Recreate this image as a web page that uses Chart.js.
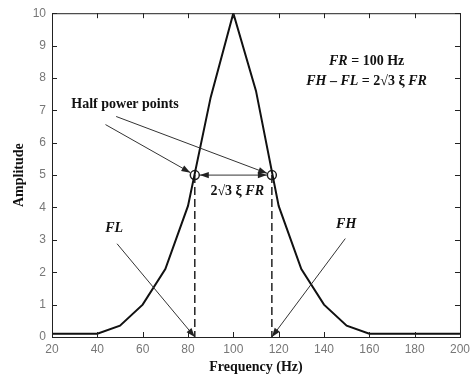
<!DOCTYPE html>
<html>
<head>
<meta charset="utf-8">
<script src="https://cdn.jsdelivr.net/npm/chart.js@4.4.0/dist/chart.umd.min.js"></script>
<style>
    html, body { margin: 0; padding: 0; background: #fff; }
    #wrap { width: 475px; height: 380px; }
</style>
</head>
<body>
<div id="wrap"><canvas id="responseChart"></canvas></div>
<script>
// Frequency response data
const freq = [20, 30, 40, 50, 60, 70, 80, 90, 100, 110, 120, 130, 140, 150, 160, 170, 180, 190, 200];
const amplitude = [0.1, 0.1, 0.1, 0.35, 1.0, 2.1, 4.05, 7.4, 10, 7.6, 4.05, 2.1, 1.0, 0.35, 0.1, 0.1, 0.1, 0.1, 0.1];

// Half power points (FL, FH)
const halfPowerFreq = [83, 117];
const halfPowerAmp = [5, 5];

// Axis ranges / tick steps
const xRange = [20, 200];
const xStep = 20;
const yRange = [0, 10];
const yStep = 1;

// Annotations, in data units
const arrows = [
    { from: [43.6, 6.56], to: [83, 5], endGap: 5 },
    { from: [48.3, 6.81], to: [117, 5], endGap: 5 },
    { from: [48.7, 2.88], to: [83, 0], endGap: 0 },
    { from: [149.4, 3.04], to: [117, 0], endGap: 0 }
];
const labels = [
    { at: [52.2, 7.18], runs: [{ t: 'Half power points' }] },
    { at: [47.4, 3.34], runs: [{ t: 'FL', i: true }] },
    { at: [149.8, 3.47], runs: [{ t: 'FH', i: true }] },
    { at: [101.7, 4.5], runs: [{ t: '2\u221A3 \u03BE ' }, { t: 'FR', i: true }] },
    { at: [158.8, 8.5], runs: [{ t: 'FR', i: true }, { t: ' = 100 Hz' }] },
    { at: [158.8, 7.88], runs: [{ t: 'FH', i: true }, { t: ' \u2013 ' }, { t: 'FL', i: true }, { t: ' = 2\u221A3 \u03BE ' }, { t: 'FR', i: true }] }
];

const serif = '"Liberation Serif", "DejaVu Serif", serif';

function drawArrowHead(ctx, x1, y1, x2, y2) {
    const a = Math.atan2(y2 - y1, x2 - x1);
    const len = 9, half = 3.2;
    ctx.beginPath();
    ctx.moveTo(x2, y2);
    ctx.lineTo(x2 - len * Math.cos(a) + half * Math.sin(a), y2 - len * Math.sin(a) - half * Math.cos(a));
    ctx.lineTo(x2 - len * Math.cos(a) - half * Math.sin(a), y2 - len * Math.sin(a) + half * Math.cos(a));
    ctx.closePath();
    ctx.fill();
}

function drawRuns(ctx, runs, cx, cy, size) {
    const fontFor = r => (r.i ? 'italic ' : '') + 'bold ' + size + 'px ' + serif;
    let total = 0;
    runs.forEach(r => { ctx.font = fontFor(r); total += ctx.measureText(r.t).width; });
    let x = cx - total / 2;
    ctx.textBaseline = 'middle';
    ctx.textAlign = 'left';
    runs.forEach(r => {
        ctx.font = fontFor(r);
        ctx.fillText(r.t, x, cy);
        x += ctx.measureText(r.t).width;
    });
}

// Box frame with inward ticks plus the arrows and labels
const annotatePlugin = {
    id: 'annotate',
    afterDatasetsDraw(chart) {
        const { ctx, chartArea: a, scales: { x, y } } = chart;
        ctx.save();
        ctx.strokeStyle = '#222';
        ctx.lineWidth = 1;
        ctx.strokeRect(a.left + 0.5, a.top + 0.5, a.right - a.left, a.bottom - a.top);
        const tl = 5;
        ctx.beginPath();
        x.ticks.forEach(t => {
            const px = Math.round(x.getPixelForValue(t.value)) + 0.5;
            ctx.moveTo(px, a.bottom); ctx.lineTo(px, a.bottom - tl);
            ctx.moveTo(px, a.top); ctx.lineTo(px, a.top + tl);
        });
        y.ticks.forEach(t => {
            const py = Math.round(y.getPixelForValue(t.value)) + 0.5;
            ctx.moveTo(a.left, py); ctx.lineTo(a.left + tl, py);
            ctx.moveTo(a.right, py); ctx.lineTo(a.right - tl, py);
        });
        ctx.stroke();

        // double arrow between half power points
        const p1x = x.getPixelForValue(halfPowerFreq[0]) + 5;
        const p2x = x.getPixelForValue(halfPowerFreq[1]) - 5;
        const py = y.getPixelForValue(halfPowerAmp[0]);
        ctx.strokeStyle = '#333';
        ctx.fillStyle = '#222';
        ctx.beginPath();
        ctx.moveTo(p1x, py); ctx.lineTo(p2x, py);
        ctx.stroke();
        drawArrowHead(ctx, p2x, py, p1x, py);
        drawArrowHead(ctx, p1x, py, p2x, py);

        arrows.forEach(ar => {
            const x1 = x.getPixelForValue(ar.from[0]), y1 = y.getPixelForValue(ar.from[1]);
            let x2 = x.getPixelForValue(ar.to[0]), y2 = y.getPixelForValue(ar.to[1]);
            const d = Math.hypot(x2 - x1, y2 - y1);
            x2 -= (x2 - x1) / d * ar.endGap;
            y2 -= (y2 - y1) / d * ar.endGap;
            ctx.beginPath();
            ctx.moveTo(x1, y1); ctx.lineTo(x2, y2);
            ctx.stroke();
            drawArrowHead(ctx, x1, y1, x2, y2);
        });

        ctx.fillStyle = '#111';
        labels.forEach(l => {
            drawRuns(ctx, l.runs, x.getPixelForValue(l.at[0]), y.getPixelForValue(l.at[1]), 14);
        });
        ctx.restore();
    }
};

const ctx = document.getElementById('responseChart');
new Chart(ctx, {
    type: 'line',
    data: {
        datasets: [
            {
                label: 'Amplitude',
                data: freq.map((f, i) => ({ x: f, y: amplitude[i] })),
                borderColor: '#111',
                borderWidth: 2,
                pointRadius: 0,
                tension: 0
            },
            {
                label: 'FL',
                data: [{ x: halfPowerFreq[0], y: halfPowerAmp[0] }, { x: halfPowerFreq[0], y: 0 }],
                borderColor: '#222',
                borderWidth: 1.5,
                borderDash: [8, 4],
                pointRadius: 0
            },
            {
                label: 'FH',
                data: [{ x: halfPowerFreq[1], y: halfPowerAmp[1] }, { x: halfPowerFreq[1], y: 0 }],
                borderColor: '#222',
                borderWidth: 1.5,
                borderDash: [8, 4],
                pointRadius: 0
            },
            {
                label: 'Half power points',
                data: halfPowerFreq.map((f, i) => ({ x: f, y: halfPowerAmp[i] })),
                showLine: false,
                pointRadius: 4.5,
                pointBorderWidth: 1.5,
                pointBorderColor: '#222',
                pointBackgroundColor: 'rgba(0,0,0,0)'
            }
        ]
    },
    options: {
        responsive: true,
        maintainAspectRatio: false,
        animation: false,
        layout: { padding: { top: 12, right: 8, left: 0, bottom: 0 } },
        plugins: {
            legend: { display: false },
            tooltip: { enabled: false }
        },
        scales: {
            x: {
                type: 'linear',
                min: xRange[0],
                max: xRange[1],
                grid: { display: false, drawTicks: false },
                border: { display: false },
                ticks: {
                    stepSize: xStep,
                    padding: 5,
                    color: '#777',
                    font: { family: '"Liberation Sans", Arial, sans-serif', size: 12 }
                },
                title: {
                    display: true,
                    text: 'Frequency (Hz)',
                    color: '#111',
                    padding: { top: 0, bottom: 4 },
                    font: { family: serif, size: 14, weight: 'bold' }
                },
                afterFit(scale) { scale.height = 43; }
            },
            y: {
                type: 'linear',
                min: yRange[0],
                max: yRange[1],
                grid: { display: false, drawTicks: false },
                border: { display: false },
                ticks: {
                    stepSize: yStep,
                    padding: 6,
                    color: '#777',
                    font: { family: '"Liberation Sans", Arial, sans-serif', size: 12 }
                },
                title: {
                    display: true,
                    text: 'Amplitude',
                    color: '#111',
                    padding: { top: 11, bottom: 0 },
                    font: { family: serif, size: 14, weight: 'bold' }
                },
                afterFit(scale) { scale.width = 52; }
            }
        }
    },
    plugins: [annotatePlugin]
});
</script>
</body>
</html>
